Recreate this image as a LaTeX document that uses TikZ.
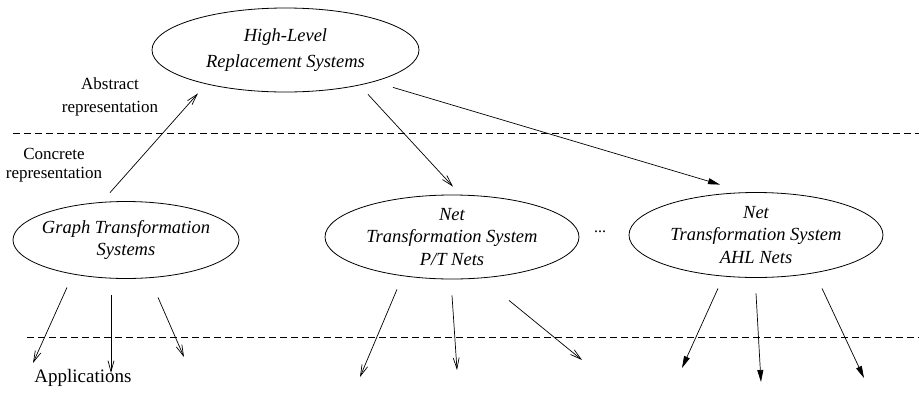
\documentclass[tikz,border=0pt]{standalone}
\usepackage{fontspec}
\setmainfont{Liberation Serif}
\usetikzlibrary{shapes.geometric,arrows.meta,calc}
\begin{document}
\begin{tikzpicture}[x=1pt,y=-1pt,
  sys/.style={ellipse,draw,line width=0.8pt,inner sep=0pt,align=center,
    font=\fontsize{18.5}{22.5}\selectfont\itshape},
  lbl/.style={inner sep=0pt,align=center,font=\fontsize{17}{23}\selectfont},
  openarr/.style={-{Straight Barb[length=11pt,width=6pt]},line width=0.7pt},
  fillarr/.style={-{Triangle[length=12pt,width=6pt]},line width=0.7pt},
  sep/.style={dash pattern=on 6.5pt off 4.5pt,line width=0.7pt}]
\useasboundingbox (0,0) rectangle (919,397);

% level separators
\coordinate (s1a) at (13,133);  \coordinate (s1b) at (919,133);
\coordinate (s2a) at (27,337);  \coordinate (s2b) at (919,337);
\draw[sep] (s1a) -- (s1b);
\draw[sep] (s2a) -- (s2b);

% systems
\node[sys,minimum width=267pt,minimum height=84pt] (top) at (285.5,50)
  {High-Level\\[4pt]Replacement Systems};
\node[sys,inner xsep=-5pt,minimum width=226pt,minimum height=77pt] (gt) at (126,240)
  {Graph Transformation\\Systems};
\node[sys,minimum width=254pt,minimum height=84pt] (pt) at (452,237)
  {Net\\Transformation System\\P/T Nets};
\node[sys,minimum width=254pt,minimum height=85pt] (ahl) at (756,235)
  {Net\\Transformation System\\AHL Nets};
\node[inner sep=0pt,font=\fontsize{16}{18}\selectfont] (dots) at (600,232) {...};

% side labels
\node[lbl] (abs) at (110,97) {Abstract\\representation};
\node[lbl,font=\fontsize{17}{18.5}\selectfont] (con) at (54,165) {Concrete\\representation};
\node[inner sep=0pt,font=\fontsize{19}{22}\selectfont] (app) at (83,378) {Applications};

% abstraction arrows
\draw[openarr] ($(gt.north)+(-16,-8.5)$) -- ($(top.south)+(-87.5,1)$);
\draw[openarr] ($(top.south)+(82.5,2)$) -- ($(pt.north)+(1,-8)$);
\draw[fillarr] ($(top.south)+(107.5,-5)$) -- ($(ahl.north)+(-36,-7.5)$);

% application ends
\coordinate (g1) at (33,363);  \coordinate (g2) at (111,373); \coordinate (g3) at (184,357);
\coordinate (p1) at (360,377); \coordinate (p2) at (457,370); \coordinate (p3) at (582,360);
\coordinate (a1) at (682,368); \coordinate (a2) at (761,382); \coordinate (a3) at (864,378);

\draw[openarr] ($(gt.south)+(-59,8.5)$) -- (g1);
\draw[openarr] ($(gt.south)+(-15,16.5)$) -- (g2);
\draw[openarr] ($(gt.south)+(32,18.5)$) -- (g3);

\draw[openarr] ($(pt.south)+(-55,10)$) -- (p1);
\draw[openarr] ($(pt.south)+(0,16)$) -- (p2);
\draw[openarr] ($(pt.south)+(57,21)$) -- (p3);

\draw[fillarr] ($(ahl.south)+(-38,10.5)$) -- (a1);
\draw[fillarr] ($(ahl.south)+(0,15.5)$) -- (a2);
\draw[fillarr] ($(ahl.south)+(66,10.5)$) -- (a3);
\end{tikzpicture}
\end{document}
